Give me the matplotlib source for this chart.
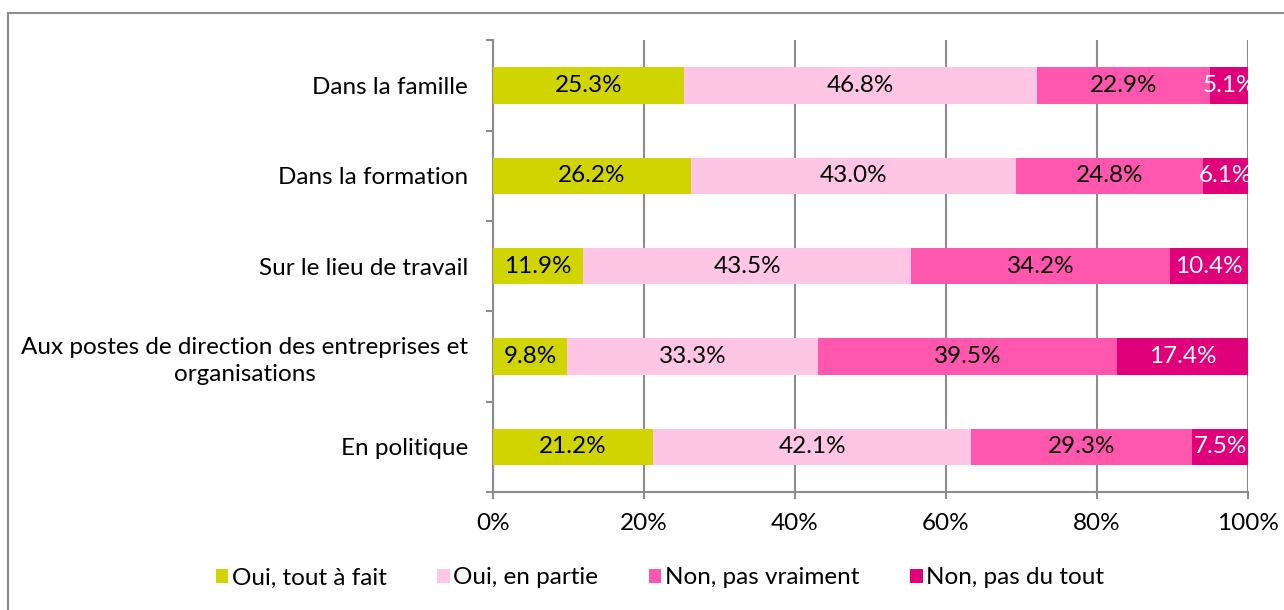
import numpy as np
import matplotlib.pyplot as plt
from matplotlib.patches import Rectangle
from matplotlib.ticker import PercentFormatter

plt.rcParams['font.family'] = ['Lato', 'DejaVu Sans']

categories = ['Dans la famille', 'Dans la formation', 'Sur le lieu de travail',
              'Aux postes de direction des entreprises et\norganisations', 'En politique']
series = ['Oui, tout à fait', 'Oui, en partie', 'Non, pas vraiment', 'Non, pas du tout']
tout_a_fait = [25.3, 26.2, 11.9, 9.8, 21.2]
en_partie = [46.8, 43.0, 43.5, 33.3, 42.1]
pas_vraiment = [22.9, 24.8, 34.2, 39.5, 29.3]
pas_du_tout = [5.1, 6.1, 10.4, 17.4, 7.5]

colors = ['#D0D400', '#FFC5E4', '#FF57AD', '#E0007A']
text_colors = ['black', 'black', 'black', 'white']
fs = 17.5

fig = plt.figure(figsize=(12.84, 6.10), dpi=100)
ax = fig.add_axes([0.384, 0.1934, 0.588, 0.7406])

# outer frame of the chart area
fig.patches.append(Rectangle((8 / 1284, -0.1), 1.2, (610 - 13) / 610 + 0.1,
                             transform=fig.transFigure, fill=False,
                             edgecolor='#8c8c8c', linewidth=1.5))

y = np.arange(len(categories))
left = np.zeros(len(categories))
for vals, name, col, tc in zip([tout_a_fait, en_partie, pas_vraiment, pas_du_tout],
                               series, colors, text_colors):
    vals = np.array(vals)
    ax.barh(y, vals, left=left, height=0.4, color=col, label=name, zorder=3)
    for yi, l, v in zip(y, left, vals):
        ax.text(l + v / 2, yi, f'{v:.1f}%', ha='center', va='center',
                color=tc, fontsize=fs, zorder=4)
    left += vals

ax.set_xlim(0, 100)
ax.set_ylim(len(categories) - 0.5, -0.5)
ax.set_xticks(np.arange(0, 101, 20))
ax.xaxis.set_major_formatter(PercentFormatter(decimals=0))
ax.set_yticks(y)
ax.set_yticklabels(categories, ha='right', multialignment='center', linespacing=1.35)
ax.set_yticks(np.arange(-0.5, len(categories)), minor=True)
ax.tick_params(axis='y', which='major', length=0, labelsize=fs, pad=18)
ax.tick_params(axis='y', which='minor', length=5, color='#8c8c8c', width=1.5)
ax.tick_params(axis='x', length=5, color='#8c8c8c', width=1.5, labelsize=fs, pad=10)
ax.grid(axis='x', color='#8c8c8c', linewidth=1.5, zorder=0)
for s in ['top', 'right']:
    ax.spines[s].set_visible(False)
for s in ['left', 'bottom']:
    ax.spines[s].set_color('#8c8c8c')
    ax.spines[s].set_linewidth(1.5)

ax.legend(loc='center', bbox_to_anchor=(660 / 1284, 32 / 610), bbox_transform=fig.transFigure,
          ncol=4, frameon=False, fontsize=fs, handlelength=0.5, handleheight=0.5,
          handletextpad=0.15, columnspacing=2.1)

fig.savefig('out.png', dpi=100)
